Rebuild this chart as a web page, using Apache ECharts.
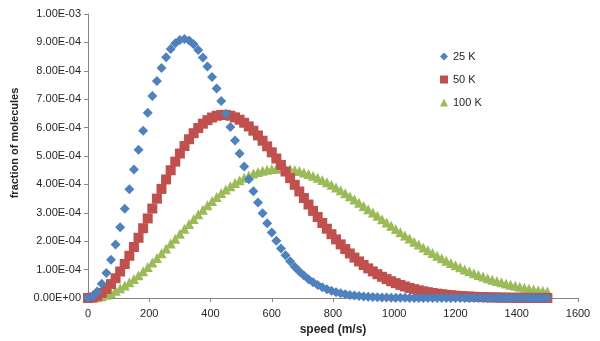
<!DOCTYPE html>
<html>
<head>
<meta charset="utf-8">
<script src="https://cdn.jsdelivr.net/npm/echarts@6/dist/echarts.min.js"></script>
<style>
  html, body { margin: 0; padding: 0; background: #fff; }
  #chart { width: 600px; height: 341px; }
</style>
</head>
<body>
<div id="chart"></div>
<script>
// Molecular speeds (m/s), sampled every 15 m/s
const speeds = [
  0, 15, 30, 45, 60, 75, 90, 105, 120, 135,
  150, 165, 180, 195, 210, 225, 240, 255, 270, 285,
  300, 315, 330, 345, 360, 375, 390, 405, 420, 435,
  450, 465, 480, 495, 510, 525, 540, 555, 570, 585,
  600, 615, 630, 645, 660, 675, 690, 705, 720, 735,
  750, 765, 780, 795, 810, 825, 840, 855, 870, 885,
  900, 915, 930, 945, 960, 975, 990, 1005, 1020, 1035,
  1050, 1065, 1080, 1095, 1110, 1125, 1140, 1155, 1170, 1185,
  1200, 1215, 1230, 1245, 1260, 1275, 1290, 1305, 1320, 1335,
  1350, 1365, 1380, 1395, 1410, 1425, 1440, 1455, 1470, 1485,
  1500
];

// Fraction of molecules at each speed, 25 K
const frac25K = [
  0, 5.68e-6, 2.257e-5, 5.019e-5, 8.781e-5, 1.344e-4, 1.887e-4, 2.493e-4, 3.146e-4, 3.829e-4,
  4.525e-4, 5.218e-4, 5.890e-4, 6.527e-4, 7.114e-4, 7.641e-4, 8.096e-4, 8.473e-4, 8.765e-4, 8.971e-4,
  9.088e-4, 9.119e-4, 9.067e-4, 8.937e-4, 8.736e-4, 8.470e-4, 8.148e-4, 7.780e-4, 7.374e-4, 6.940e-4,
  6.485e-4, 6.020e-4, 5.550e-4, 5.084e-4, 4.627e-4, 4.185e-4, 3.761e-4, 3.360e-4, 2.983e-4, 2.633e-4,
  2.310e-4, 2.015e-4, 1.747e-4, 1.507e-4, 1.292e-4, 1.102e-4, 9.34e-5, 7.88e-5, 6.60e-5, 5.51e-5,
  4.57e-5, 3.77e-5, 3.09e-5, 2.52e-5, 2.05e-5, 1.66e-5, 1.33e-5, 1.06e-5, 8.45e-6, 6.68e-6,
  5.26e-6, 4.12e-6, 3.21e-6, 2.48e-6, 1.92e-6, 1.47e-6, 1.12e-6, 8.5e-7, 6.4e-7, 4.8e-7,
  3.6e-7, 2.7e-7, 2.0e-7, 1.5e-7, 1.1e-7, 7.9e-8, 5.7e-8, 4.1e-8, 3.0e-8, 2.1e-8,
  1.5e-8, 1.1e-8, 7.5e-9, 5.3e-9, 3.7e-9, 2.6e-9, 1.77e-9, 1.2e-9, 8.2e-10, 5.6e-10,
  3.8e-10, 2.6e-10, 1.75e-10, 1.18e-10, 7.8e-11, 5.1e-11, 3.4e-11, 2.2e-11, 1.4e-11, 9.2e-12,
  6.0e-12
];

// Fraction of molecules at each speed, 50 K
const frac50K = [
  0, 2.01e-6, 8.02e-6, 1.793e-5, 3.163e-5, 4.891e-5, 6.955e-5, 9.326e-5, 1.197e-4, 1.486e-4,
  1.795e-4, 2.120e-4, 2.457e-4, 2.802e-4, 3.151e-4, 3.499e-4, 3.842e-4, 4.175e-4, 4.497e-4, 4.802e-4,
  5.087e-4, 5.351e-4, 5.590e-4, 5.802e-4, 5.985e-4, 6.139e-4, 6.262e-4, 6.355e-4, 6.416e-4, 6.446e-4,
  6.447e-4, 6.418e-4, 6.361e-4, 6.278e-4, 6.171e-4, 6.041e-4, 5.891e-4, 5.723e-4, 5.538e-4, 5.340e-4,
  5.130e-4, 4.911e-4, 4.685e-4, 4.454e-4, 4.220e-4, 3.985e-4, 3.751e-4, 3.519e-4, 3.291e-4, 3.068e-4,
  2.851e-4, 2.642e-4, 2.440e-4, 2.247e-4, 2.063e-4, 1.888e-4, 1.723e-4, 1.568e-4, 1.423e-4, 1.287e-4,
  1.161e-4, 1.044e-4, 9.37e-5, 8.38e-5, 7.47e-5, 6.65e-5, 5.90e-5, 5.22e-5, 4.60e-5, 4.05e-5,
  3.55e-5, 3.11e-5, 2.71e-5, 2.36e-5, 2.05e-5, 1.77e-5, 1.53e-5, 1.32e-5, 1.13e-5, 9.70e-6,
  8.29e-6, 7.06e-6, 6.00e-6, 5.09e-6, 4.30e-6, 3.63e-6, 3.05e-6, 2.56e-6, 2.14e-6, 1.79e-6,
  1.49e-6, 1.24e-6, 1.02e-6, 8.5e-7, 7.0e-7, 5.7e-7, 4.7e-7, 3.8e-7, 3.1e-7, 2.6e-7,
  2.1e-7
];

// Fraction of molecules at each speed, 100 K
const frac100K = [
  0, 7.11e-7, 2.84e-6, 6.37e-6, 1.128e-5, 1.754e-5, 2.510e-5, 3.391e-5, 4.391e-5, 5.503e-5,
  6.720e-5, 8.034e-5, 9.435e-5, 1.092e-4, 1.247e-4, 1.407e-4, 1.573e-4, 1.742e-4, 1.915e-4, 2.088e-4,
  2.263e-4, 2.437e-4, 2.609e-4, 2.779e-4, 2.945e-4, 3.107e-4, 3.263e-4, 3.414e-4, 3.557e-4, 3.693e-4,
  3.820e-4, 3.939e-4, 4.048e-4, 4.147e-4, 4.236e-4, 4.315e-4, 4.383e-4, 4.439e-4, 4.485e-4, 4.520e-4,
  4.544e-4, 4.557e-4, 4.560e-4, 4.552e-4, 4.534e-4, 4.506e-4, 4.469e-4, 4.422e-4, 4.368e-4, 4.305e-4,
  4.235e-4, 4.158e-4, 4.074e-4, 3.985e-4, 3.890e-4, 3.791e-4, 3.687e-4, 3.580e-4, 3.470e-4, 3.357e-4,
  3.243e-4, 3.127e-4, 3.010e-4, 2.892e-4, 2.775e-4, 2.658e-4, 2.542e-4, 2.427e-4, 2.314e-4, 2.202e-4,
  2.092e-4, 1.985e-4, 1.880e-4, 1.779e-4, 1.680e-4, 1.584e-4, 1.491e-4, 1.402e-4, 1.316e-4, 1.234e-4,
  1.155e-4, 1.079e-4, 1.007e-4, 9.39e-5, 8.74e-5, 8.12e-5, 7.53e-5, 6.98e-5, 6.46e-5, 5.97e-5,
  5.51e-5, 5.08e-5, 4.67e-5, 4.29e-5, 3.94e-5, 3.61e-5, 3.30e-5, 3.02e-5, 2.75e-5, 2.51e-5,
  2.28e-5
];

const seriesNames = ['25 K', '50 K', '100 K'];

// Excel-style scientific notation: 1.00E-03
function sci(v) {
  if (Math.abs(v) < 1e-15) return '0.00E+00';
  let exp = Math.floor(Math.log10(Math.abs(v)) + 1e-9);
  let mant = v / Math.pow(10, exp);
  if (mant >= 9.995) { mant /= 10; exp += 1; }
  const sign = exp < 0 ? '-' : '+';
  const e = String(Math.abs(exp)).padStart(2, '0');
  return mant.toFixed(2) + 'E' + sign + e;
}

function pairs(vals) {
  return speeds.map((s, i) => [s, vals[i]]);
}

const axisGray = '#868686';
const textColor = '#262626';
const font = 'Liberation Sans, Arial, sans-serif';

const chart = echarts.init(document.getElementById('chart'), null, { renderer: 'canvas' });

chart.setOption({
  animation: false,
  backgroundColor: '#ffffff',
  textStyle: { fontFamily: font },
  grid: { left: 88, right: 22, top: 14, bottom: 39, containLabel: false },
  legend: {
    orient: 'vertical',
    left: 435,
    top: 46,
    itemWidth: 8,
    itemHeight: 8,
    itemGap: 12,
    textStyle: { fontFamily: font, fontSize: 11, color: textColor },
    data: [
      { name: seriesNames[0], icon: 'diamond' },
      { name: seriesNames[1], icon: 'rect' },
      { name: seriesNames[2], icon: 'triangle' }
    ]
  },
  // vertical axis title, placed beside the tick labels
  graphic: [{
    type: 'text',
    x: 15,
    y: 143,
    rotation: Math.PI / 2,
    style: {
      text: 'fraction of molecules',
      font: 'bold 11px Liberation Sans, Arial, sans-serif',
      fill: textColor,
      align: 'center',
      verticalAlign: 'middle'
    }
  }],
  xAxis: {
    type: 'value',
    min: 0,
    max: 1600,
    interval: 200,
    name: 'speed (m/s)',
    nameLocation: 'middle',
    nameGap: 26,
    nameTextStyle: { fontFamily: font, fontSize: 12, fontWeight: 'bold', color: textColor },
    axisLine: { show: true, lineStyle: { color: axisGray, width: 1 } },
    axisTick: { show: true, inside: false, length: 4, lineStyle: { color: axisGray } },
    axisLabel: { fontFamily: font, fontSize: 11, color: textColor, margin: 10, formatter: v => String(v) },
    splitLine: { show: false }
  },
  yAxis: {
    type: 'value',
    min: 0,
    max: 0.001,
    interval: 0.0001,
    axisLine: { show: true, lineStyle: { color: axisGray, width: 1 } },
    axisTick: { show: true, inside: false, length: 4, lineStyle: { color: axisGray } },
    axisLabel: { fontFamily: font, fontSize: 11, color: textColor, margin: 7, formatter: sci },
    splitLine: { show: false }
  },
  series: [
    {
      name: seriesNames[2],
      type: 'scatter',
      symbol: 'triangle',
      symbolSize: 10,
      itemStyle: { color: '#9BBB59', opacity: 1 },
      data: pairs(frac100K),
      z: 2
    },
    {
      name: seriesNames[1],
      type: 'scatter',
      symbol: 'rect',
      symbolSize: 10,
      itemStyle: { color: '#C0504D', opacity: 1 },
      data: pairs(frac50K),
      z: 3
    },
    {
      name: seriesNames[0],
      type: 'scatter',
      symbol: 'diamond',
      symbolSize: 10,
      itemStyle: { color: '#4F81BD', opacity: 1 },
      data: pairs(frac25K),
      z: 4
    }
  ]
});
</script>
</body>
</html>
